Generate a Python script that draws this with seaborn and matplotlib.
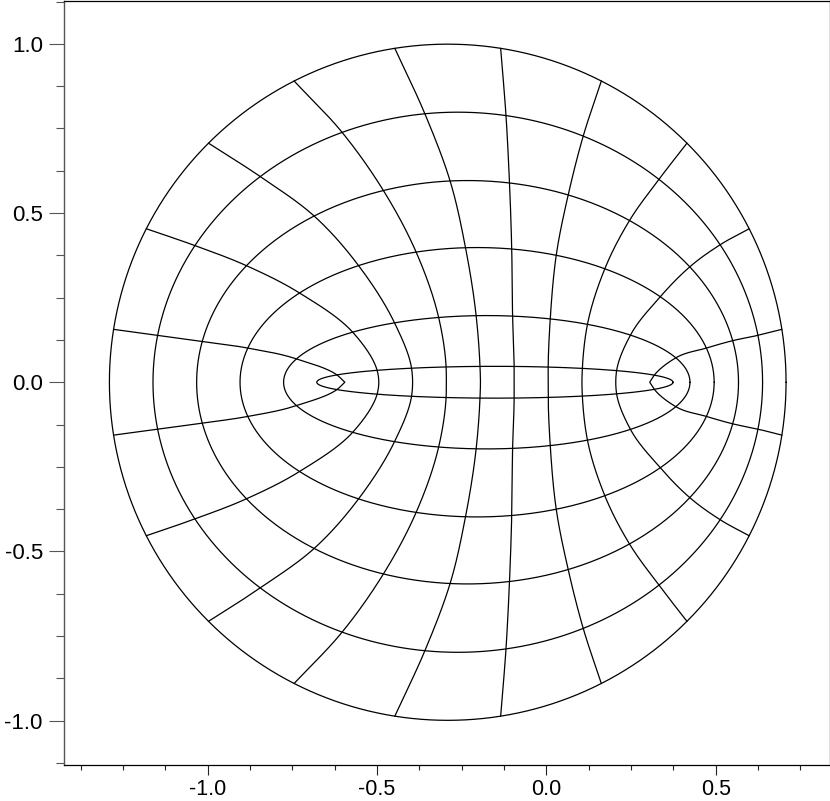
import numpy as np
import pandas as pd
import seaborn as sns
import matplotlib.pyplot as plt
from matplotlib.ticker import MultipleLocator, FuncFormatter

# grid levels: 0 is the inner slit, the others are the drawn rings (outermost = circle)
level_t = [0.0, 0.05, 0.2, 0.4, 0.6, 0.8, 1.0]
level_cx = [-0.145, -0.152, -0.176, -0.2046, -0.2327, -0.2616, -0.2913]
level_a = [0.500, 0.526, 0.600, 0.700, 0.800, 0.900, 0.999]
level_b = [0.000, 0.047, 0.197, 0.398, 0.596, 0.798, 0.999]
ring_levels = [1, 2, 3, 4, 5, 6]

# spokes (upper half, mirrored below): ellipse angle (deg) where each spoke
# crosses the levels above; spokes near the axis end in a corner on the slit
spoke_phi = [
    [25.8, 26.5, 21.5, 14.7, 11.9, 10.0, 9.0],
    [45.6, 46.9, 45.0, 39.4, 34.9, 30.6, 27.0],
    [60.0, 60.6, 60.3, 57.4, 53.3, 48.7, 45.0],
    [72.5, 72.6, 71.8, 70.5, 68.2, 65.7, 63.0],
    [84.3, 83.8, 82.7, 81.6, 81.1, 80.9, 81.0],
    [95.7, 94.8, 93.0, 92.8, 93.7, 96.2, 99.0],
    [107.5, 105.9, 103.7, 104.9, 108.1, 112.3, 117.0],
    [120.0, 117.9, 117.0, 120.0, 124.5, 130.4, 135.0],
    [134.4, 131.4, 131.3, 138.5, 144.7, 149.6, 153.0],
    [154.2, 152.5, 159.5, 165.3, 168.3, 170.0, 171.0],
]
spoke_corner = [True, False, False, False, False, False, False, False, False, True]


def hermite(tk, pk, mk, tt):
    k = np.clip(np.searchsorted(tk, tt, side="right") - 1, 0, len(tk) - 2)
    h = tk[k + 1] - tk[k]
    u = (tt - tk[k]) / h
    h00 = 2 * u**3 - 3 * u**2 + 1
    h10 = u**3 - 2 * u**2 + u
    h01 = -2 * u**3 + 3 * u**2
    h11 = u**3 - u**2
    return h00 * pk[k] + h10 * h * mk[k] + h01 * pk[k + 1] + h11 * h * mk[k + 1]


tk = np.array(level_t)
cxk = np.array(level_cx)
ak = np.array(level_a)
bk = np.array(level_b)

rows = []
cid = 0
# rings
ang = np.linspace(0, 2 * np.pi, 721)
for i in ring_levels:
    x = cxk[i] + ak[i] * np.cos(ang)
    y = bk[i] * np.sin(ang)
    rows.append(pd.DataFrame({"x": x, "y": y, "curve": cid}))
    cid += 1

# spokes: outer circle -> slit -> outer circle (mirror)
tt = np.concatenate([np.linspace(0, 0.05, 40), np.linspace(0.05, 1, 260)[1:]])
for phis, corner in zip(spoke_phi, spoke_corner):
    phi = np.radians(phis)
    xk = cxk + ak * np.cos(phi)
    yk = bk * np.sin(phi)
    mx = np.gradient(xk, tk)
    my = np.gradient(yk, tk)
    if not corner:
        mx[0] = 0.0
    x = hermite(tk, xk, mx, tt)
    y = hermite(tk, yk, my, tt)
    xs = np.concatenate([x[::-1], x[1:]])
    ys = np.concatenate([y[::-1], -y[1:]])
    rows.append(pd.DataFrame({"x": xs, "y": ys, "curve": cid}))
    cid += 1

df = pd.concat(rows, ignore_index=True)

sns.set_style("ticks")
plt.rcParams["font.family"] = ["Liberation Sans", "DejaVu Sans"]

fig = plt.figure(figsize=(8.3, 8.01), dpi=100)
ax = fig.add_axes([64.3 / 830, 36 / 801, 765.2 / 830, 764.5 / 801])

sns.lineplot(data=df, x="x", y="y", units="curve", estimator=None, sort=False,
             color="black", linewidth=0.9, legend=False, ax=ax)

ax.set_xlim(-1.4235, 0.836)
ax.set_ylim(-1.131, 1.128)
ax.set_xlabel("")
ax.set_ylabel("")

ax.xaxis.set_major_locator(MultipleLocator(0.5))
ax.xaxis.set_minor_locator(MultipleLocator(0.125))
ax.yaxis.set_major_locator(MultipleLocator(0.5))
ax.yaxis.set_minor_locator(MultipleLocator(0.125))
fmt = FuncFormatter(lambda v, p: "{:.1f}".format(round(v, 3) + 0.0))
ax.xaxis.set_major_formatter(fmt)
ax.yaxis.set_major_formatter(fmt)

ax.tick_params(axis="x", which="major", length=7.2, width=0.8, color="#222222",
               pad=3, labelsize=15.5, labelcolor="black")
ax.tick_params(axis="x", which="minor", length=3.6, width=0.8, color="#222222")
ax.tick_params(axis="y", which="major", length=10.8, width=0.8, color="#555555",
               pad=4.7, labelsize=16, labelcolor="black")
ax.tick_params(axis="y", which="minor", length=6, width=0.8, color="#555555")

for side in ["top", "right", "bottom"]:
    ax.spines[side].set_visible(True)
    ax.spines[side].set_color("black")
    ax.spines[side].set_linewidth(0.9)
ax.spines["left"].set_color("#555555")
ax.spines["left"].set_linewidth(1.0)

fig.savefig("out.png", dpi=100)
